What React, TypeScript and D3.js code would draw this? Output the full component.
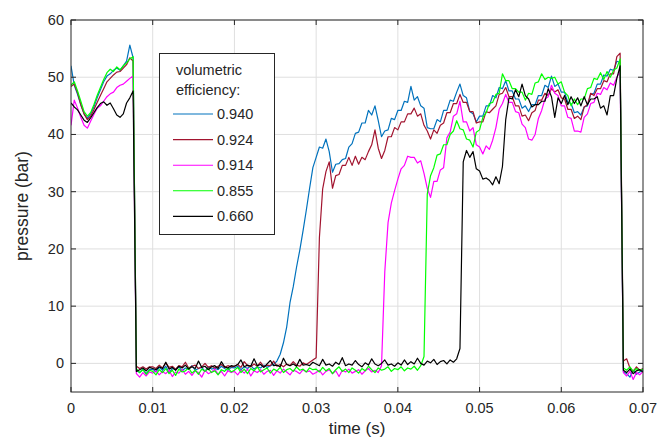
import * as d3 from "d3";
import { useEffect, useRef } from "react";

// sampled every 0.4 ms from 0 to 70 ms
const sampleStep = 0.0004;

const eff940 = [
  52.0, 48.6, 47.0, 45.2, 43.6, 42.8, 43.6, 44.8, 46.4, 47.8, 49.2, 50.2, 50.6, 51.2, 51.6, 51.2, 52.0, 52.8, 55.6, 53.4, -1.2, -1.6, -1.0, -1.8, -1.1,
  -1.0, -1.5, -0.7, -1.2, -0.5, -1.6, -0.9, -1.1, -0.6, -1.3, -0.8, -1.0, -0.4, -1.2, -0.9, -0.7, -1.4, -0.6, -1.0, -0.8, -1.1, -0.5, -0.9, -1.2, -0.7,
  -0.8, -0.5, -1.1, -0.6, -0.9, -0.4, -1.0, -0.6, -0.8, -0.3, -0.7, -0.4, -0.2, 0.4, 1.6, 3.6, 6.4, 10.6, 13.4, 16.8, 19.8, 23.2, 26.8, 30.6, 34.2,
  36.0, 37.8, 37.6, 39.2, 37.0, 33.4, 34.8, 34.9, 35.6, 35.8, 37.8, 38.4, 40.2, 40.4, 42.0, 42.0, 44.2, 43.4, 45.0, 42.4, 39.6, 40.6, 40.8, 42.8, 42.6,
  44.2, 44.2, 45.8, 45.6, 48.4, 46.0, 46.6, 45.0, 44.6, 41.2, 41.0, 41.0, 42.6, 42.2, 44.2, 44.2, 46.0, 45.8, 47.4, 48.8, 46.8, 46.4, 44.0, 43.6, 42.2,
  43.2, 43.2, 45.0, 45.0, 46.8, 46.4, 48.2, 48.0, 49.4, 47.6, 47.6, 46.2, 46.2, 44.6, 45.0, 44.0, 45.2, 45.2, 46.8, 46.8, 48.6, 48.2, 50.2, 48.4, 48.8,
  47.4, 47.4, 45.6, 45.4, 43.8, 44.0, 43.4, 44.8, 45.0, 47.0, 47.2, 48.8, 48.8, 50.4, 50.2, 51.4, 51.2, 52.8, 52.6, -1.4, -1.8, -2.4, -1.2, -1.9, -1.5, -1.2,
];

const eff924 = [
  48.4, 48.8, 47.3, 45.2, 43.6, 42.6, 43.2, 44.3, 45.6, 46.8, 48.0, 49.2, 49.8, 50.4, 50.9, 51.0, 51.6, 52.2, 53.4, 52.8, -0.5, -0.9, -0.6, -1.0, -0.6,
  -0.6, -0.9, -0.3, -0.8, 0.1, -0.7, -0.5, -1.0, -0.4, -0.6, 0.2, -0.8, -0.5, -0.3, -0.9, -0.6, 0.0, -0.7, -0.4, -0.8, -0.5, -0.2, -0.7, -0.4, -0.6,
  -0.5, -0.2, -0.7, 0.3, -0.4, -0.6, -0.1, -0.5, 0.2, -0.6, -0.3, -0.4, 0.4, -0.5, -0.2, -0.6, -0.1, -0.4, 0.3, -0.3, -0.5, 0.1, -0.2, 0.2, 0.6,
  1.0, 22.0, 30.5, 33.5, 35.2, 30.6, 32.8, 33.0, 34.6, 34.6, 36.0, 34.6, 36.2, 34.8, 36.0, 35.6, 37.0, 38.2, 40.8, 37.6, 35.8, 37.2, 39.6, 39.6, 41.2,
  40.8, 42.2, 42.2, 43.6, 43.6, 44.6, 43.2, 43.6, 41.6, 40.6, 39.2, 40.8, 40.2, 41.6, 42.0, 43.8, 43.8, 45.4, 45.4, 47.0, 45.6, 45.6, 44.0, 44.0, 42.0,
  42.2, 42.2, 44.0, 43.8, 44.4, 45.0, 47.0, 47.2, 48.2, 46.6, 46.6, 45.0, 45.0, 43.2, 43.4, 42.4, 43.8, 44.2, 46.0, 46.0, 47.2, 46.8, 48.0, 47.4, 47.8,
  46.4, 46.2, 44.4, 44.4, 42.8, 43.2, 42.6, 44.8, 45.2, 47.2, 46.8, 48.0, 48.0, 49.4, 49.2, 50.6, 50.6, 53.6, 54.2, 0.4, 0.8, -0.8, -1.4, -0.6, -1.2, -0.9,
];

const eff914 = [
  41.6, 46.0, 44.6, 43.0, 41.6, 41.1, 42.3, 43.5, 44.6, 45.0, 45.8, 46.6, 47.1, 47.4, 48.2, 48.6, 48.8, 49.3, 49.8, 50.2, -1.8, -2.4, -1.6, -2.2, -1.5,
  -1.7, -1.3, -2.0, -1.4, -1.8, -1.2, -2.3, -1.5, -1.7, -1.1, -1.9, -1.4, -2.1, -1.3, -1.6, -2.4, -1.2, -1.8, -1.5, -1.0, -1.9, -1.4, -2.2, -1.3, -1.6,
  -1.4, -2.0, -1.2, -1.7, -1.0, -2.2, -1.3, -1.6, -1.1, -1.9, -1.4, -1.2, -2.1, -1.3, -1.7, -1.0, -1.5, -2.0, -1.2, -1.4, -1.8, -1.1, -1.5, -1.3, -1.9,
  -1.6, -1.2, -2.0, -1.4, -1.1, -1.8, -1.3, -2.3, -1.2, -1.5, -1.0, -1.7, -1.4, -1.1, -1.9, -1.3, -0.9, -1.5, -1.2, -1.6, -0.4, 16.0, 24.6, 28.0, 30.2,
  32.2, 34.0, 34.6, 36.2, 36.0, 36.0, 35.0, 35.4, 33.2, 30.6, 29.0, 31.8, 31.8, 33.8, 34.2, 39.4, 40.4, 43.2, 43.6, 45.8, 42.2, 42.2, 40.6, 41.2, 38.2,
  37.8, 36.6, 38.0, 37.4, 39.0, 41.2, 44.4, 45.4, 47.0, 45.6, 45.6, 44.0, 43.8, 41.8, 41.2, 39.2, 39.0, 40.0, 42.8, 44.2, 46.2, 46.6, 48.6, 47.2, 46.8,
  45.0, 45.0, 43.0, 42.8, 40.6, 40.6, 40.4, 43.0, 43.6, 45.4, 45.6, 47.2, 47.0, 48.2, 47.8, 49.0, 48.6, 50.0, 51.0, -1.6, -2.2, -1.4, -2.8, -1.6, -2.0, -1.4,
];

const eff855 = [
  48.6, 49.2, 47.6, 45.8, 44.0, 43.2, 43.8, 45.2, 46.8, 48.2, 49.6, 50.8, 51.4, 51.0, 51.8, 51.3, 52.0, 52.5, 53.2, 53.6, -0.9, -1.6, -1.1, -1.9, -1.2,
  -1.4, -2.0, -1.1, -1.6, -0.9, -1.8, -1.2, -2.1, -1.0, -1.5, -1.3, -0.8, -1.7, -1.2, -1.9, -1.0, -1.4, -0.9, -1.6, -1.3, -2.0, -1.1, -1.4, -0.8, -1.5,
  -1.2, -0.7, -1.6, -1.0, -1.8, -0.9, -1.3, -0.6, -1.5, -1.1, -0.8, -1.7, -1.0, -1.3, -0.7, -1.6, -1.1, -0.9, -1.4, -0.6, -1.2, -1.0, -1.5, -0.8, -1.1,
  -1.0, -1.5, -0.7, -1.3, -0.9, -1.8, -1.1, -0.6, -1.4, -1.0, -1.6, -0.8, -1.2, -1.7, -0.9, -1.3, -0.5, -1.1, -1.6, -0.8, -1.2, -1.0, -0.6, -1.4, -0.9,
  -1.1, -0.6, -1.3, -0.8, -1.0, -0.5, -1.2, -0.4, 1.2, 29.6, 32.8, 34.2, 36.4, 36.6, 38.2, 38.2, 40.0, 40.6, 42.4, 41.0, 40.8, 39.2, 39.0, 37.8, 40.4,
  40.8, 43.0, 43.8, 45.4, 45.6, 47.0, 47.2, 50.6, 49.4, 49.4, 48.0, 48.0, 47.4, 47.4, 46.0, 47.2, 47.0, 49.0, 49.2, 50.6, 49.6, 50.0, 49.8, 50.0, 48.8,
  49.2, 47.4, 46.8, 45.0, 46.2, 45.2, 46.2, 46.2, 48.0, 48.2, 49.8, 49.6, 50.8, 49.6, 51.0, 50.0, 51.2, 51.6, 53.2, -0.8, -1.2, -0.6, -1.4, -0.9, -1.3, -1.0,
];

const eff660 = [
  45.5, 44.8, 44.3, 43.4, 42.5, 42.1, 42.9, 43.8, 44.7, 45.4, 45.7, 45.1, 45.5, 44.5, 43.4, 43.0, 43.6, 45.5, 46.4, 47.6, -1.4, -1.1, -0.8, -1.3, -0.7,
  -0.9, -1.1, -0.6, -0.9, 0.2, -1.0, -0.7, -1.2, -0.5, -0.8, -0.3, -1.0, -0.6, -0.9, 0.4, -0.7, -0.5, -1.1, -0.6, -0.4, -0.9, 0.3, -0.6, -0.8, -0.4,
  -0.5, -0.2, 0.6, -0.6, -0.3, -0.5, 0.8, -0.4, -0.2, -0.7, -0.1, 0.5, -0.4, -0.3, -0.6, 0.9, -0.2, -0.4, -0.1, -0.5, 0.7, -0.3, -0.2, -0.4, 0.2,
  -0.1, -0.4, 0.7, -0.3, -0.1, -0.5, 0.2, -0.2, 1.0, -0.4, -0.1, -0.3, 0.5, -0.2, -0.6, 0.1, -0.3, 0.8, -0.1, -0.4, 0.0, 0.6, -0.3, -0.1, -0.5,
  0.1, -0.3, 0.6, -0.2, 0.3, -0.1, 0.9, 0.0, -0.3, 0.4, 0.1, 0.7, -0.2, 0.3, 0.5, -0.1, 0.6, 0.2, 0.8, 2.6, 35.2, 37.2, 36.0, 37.0, 34.0,
  33.6, 32.2, 32.4, 32.0, 31.2, 32.6, 31.4, 34.4, 42.6, 46.4, 46.2, 47.8, 46.6, 48.8, 46.8, 46.2, 44.8, 45.2, 45.2, 45.8, 45.8, 48.0, 46.6, 43.0, 46.4,
  45.4, 46.8, 45.2, 46.6, 45.4, 46.4, 45.0, 46.6, 45.2, 46.2, 46.2, 46.6, 44.6, 45.0, 43.4, 46.8, 46.8, 49.8, 52.0, -1.2, -1.6, -1.0, -1.8, -1.3, -1.1, -1.5,
];

const legendLabels = ["0.940", "0.924", "0.914", "0.855", "0.660"];
const seriesColors = ["#0072BD", "#A2142F", "#FF00FF", "#00FF00", "#000000"];
const seriesValues = [eff940, eff924, eff914, eff855, eff660];
const xTicks = [0, 0.01, 0.02, 0.03, 0.04, 0.05, 0.06, 0.07];
const yTicks = [0, 10, 20, 30, 40, 50, 60];

const W = 659;
const H = 439;
const FONT = "'Liberation Sans', Arial, Helvetica, sans-serif";
const AX = "#262626";

export default function App() {
  const ref = useRef<SVGSVGElement>(null);

  useEffect(() => {
    if (!ref.current) return;
    const svg = d3.select(ref.current);
    svg.selectAll("*").remove();

    const left = 71, right = 643, top = 20, bottom = 392;
    const x = d3.scaleLinear().domain([0, 0.07]).range([left, right]);
    const y = d3.scaleLinear().domain([-5, 60]).range([bottom, top]);

    svg.append("rect").attr("width", W).attr("height", H).attr("fill", "#fff");

    // grid
    const grid = svg.append("g").attr("stroke", "#dfdfdf").attr("stroke-width", 1);
    xTicks.slice(1, -1).forEach((t) => {
      grid.append("line").attr("x1", x(t)).attr("x2", x(t)).attr("y1", top).attr("y2", bottom);
    });
    yTicks.forEach((v) => {
      grid.append("line").attr("x1", left).attr("x2", right).attr("y1", y(v)).attr("y2", y(v));
    });

    svg
      .append("clipPath")
      .attr("id", "plot-clip")
      .append("rect")
      .attr("x", left)
      .attr("y", top)
      .attr("width", right - left)
      .attr("height", bottom - top);

    const line = d3
      .line<number>()
      .x((_, i) => x(i * sampleStep))
      .y((d) => y(d));

    const lines = svg.append("g").attr("clip-path", "url(#plot-clip)");
    seriesValues.forEach((vals, k) => {
      lines
        .append("path")
        .attr("d", line(vals)!)
        .attr("fill", "none")
        .attr("stroke", seriesColors[k])
        .attr("stroke-width", 1.2)
        .attr("stroke-linejoin", "round");
    });

    // box + inward ticks
    const axes = svg.append("g").attr("stroke", AX).attr("stroke-width", 1).attr("fill", "none");
    axes
      .append("rect")
      .attr("x", left)
      .attr("y", top)
      .attr("width", right - left)
      .attr("height", bottom - top);
    const tl = 5;
    xTicks.forEach((t) => {
      axes.append("line").attr("x1", x(t)).attr("x2", x(t)).attr("y1", bottom).attr("y2", bottom - tl);
      axes.append("line").attr("x1", x(t)).attr("x2", x(t)).attr("y1", top).attr("y2", top + tl);
    });
    yTicks.forEach((v) => {
      axes.append("line").attr("x1", left).attr("x2", left + tl).attr("y1", y(v)).attr("y2", y(v));
      axes.append("line").attr("x1", right).attr("x2", right - tl).attr("y1", y(v)).attr("y2", y(v));
    });

    const labels = svg.append("g").attr("font-family", FONT).attr("fill", AX);
    xTicks.forEach((t) => {
      labels
        .append("text")
        .attr("x", x(t))
        .attr("y", bottom + 21)
        .attr("text-anchor", "middle")
        .attr("font-size", 14.5)
        .text(t === 0 ? "0" : d3.format(".2f")(t));
    });
    yTicks.forEach((v) => {
      labels
        .append("text")
        .attr("x", left - 7)
        .attr("y", y(v) + 5)
        .attr("text-anchor", "end")
        .attr("font-size", 14.5)
        .text(String(v));
    });
    labels
      .append("text")
      .attr("x", (left + right) / 2)
      .attr("y", 434)
      .attr("text-anchor", "middle")
      .attr("font-size", 17)
      .text("time (s)");
    labels
      .append("text")
      .attr("transform", `translate(28,${(top + bottom) / 2}) rotate(-90)`)
      .attr("text-anchor", "middle")
      .attr("font-size", 17.5)
      .text("pressure (bar)");

    // legend
    const lg = svg.append("g").attr("font-family", FONT);
    lg.append("rect")
      .attr("x", 159.5)
      .attr("y", 53.5)
      .attr("width", 115)
      .attr("height", 181)
      .attr("fill", "#fff")
      .attr("stroke", AX)
      .attr("stroke-width", 1);
    lg.append("text").attr("x", 176).attr("y", 75).attr("font-size", 14.5).attr("fill", AX).text("volumetric");
    lg.append("text").attr("x", 176).attr("y", 95).attr("font-size", 14.5).attr("fill", AX).text("efficiency:");
    legendLabels.forEach((lab, k) => {
      const cy = 114 + k * 25.6;
      lg.append("line")
        .attr("x1", 173)
        .attr("x2", 213)
        .attr("y1", cy)
        .attr("y2", cy)
        .attr("stroke", seriesColors[k])
        .attr("stroke-width", 1.1);
      lg.append("text")
        .attr("x", 217)
        .attr("y", cy + 5)
        .attr("font-size", 14.5)
        .attr("fill", AX)
        .text(lab);
    });
  }, []);

  return (
    <svg
      ref={ref}
      width={W}
      height={H}
      style={{ position: "absolute", left: 0, top: 0 }}
    ></svg>
  );
}
